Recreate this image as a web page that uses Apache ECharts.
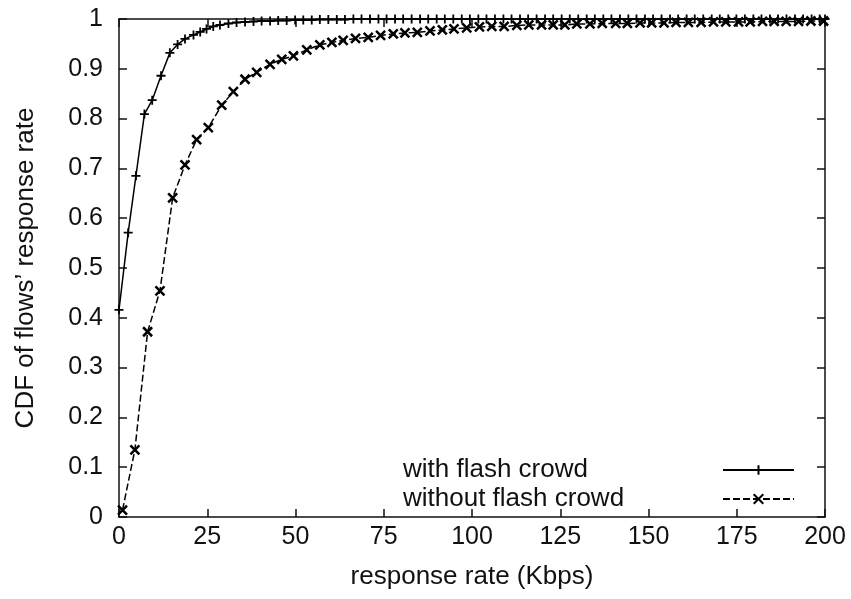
<!DOCTYPE html>
<html>
<head>
<meta charset="utf-8">
<script src="https://cdn.jsdelivr.net/npm/echarts@6/dist/echarts.min.js"></script>
<style>
  html, body { margin: 0; padding: 0; background: #fff; }
  #chart { width: 851px; height: 599px; }
</style>
</head>
<body>
<div id="chart"></div>
<script>
// Response rate (Kbps) sample points and CDF values, with flash crowd
var withRate = [0, 2.6, 4.8, 7.2, 9.4, 11.9, 14.4, 16.6, 18.7, 21.1, 23.0, 24.8, 26.7, 28.6, 31.0, 33.3,
  35.7, 38.1, 40.4, 42.8, 45.1, 47.5, 49.9, 52.2, 54.6, 56.9, 59.3, 61.7, 64.0, 66.4, 68.7, 71.1,
  73.5, 75.8, 78.2, 80.5, 82.9, 85.3, 87.6, 90.0, 92.3, 94.7, 97.1, 99.4, 101.8, 104.1, 106.5, 108.9,
  111.2, 113.6, 115.9, 118.3, 120.7, 123.0, 125.4, 127.7, 130.1, 132.5, 134.8, 137.2, 139.5, 141.9,
  144.3, 146.6, 149.0, 151.3, 153.7, 156.1, 158.4, 160.8, 163.1, 165.5, 167.9, 170.2, 172.6, 174.9,
  177.3, 179.7, 182.0, 184.4, 186.7, 189.1, 191.5, 193.8, 196.2, 198.5, 200.0];
var withCdf = [0.416, 0.571, 0.685, 0.809, 0.837, 0.886, 0.932, 0.949, 0.960, 0.968, 0.974, 0.980, 0.985, 0.988, 0.991, 0.993,
  0.994, 0.995, 0.996, 0.996, 0.997, 0.997, 0.998, 0.998, 0.998, 0.999, 0.999, 0.999, 0.999, 1.0, 1.0, 1.0,
  1.0, 1.0, 1.0, 1.0, 1.0, 1.0, 1.0, 1.0, 1.0, 1.0, 1.0, 1.0, 1.0, 1.0, 1.0, 1.0,
  1.0, 1.0, 1.0, 1.0, 1.0, 1.0, 1.0, 1.0, 1.0, 1.0, 1.0, 1.0, 1.0, 1.0,
  1.0, 1.0, 1.0, 1.0, 1.0, 1.0, 1.0, 1.0, 1.0, 1.0, 1.0, 1.0, 1.0, 1.0,
  1.0, 1.0, 1.0, 1.0, 1.0, 1.0, 1.0, 1.0, 1.0, 1.0, 1.0];

// Without flash crowd
var withoutRate = [1.0, 4.5, 8.1, 11.6, 15.2, 18.7, 22.0, 25.3, 29.1, 32.4, 35.7, 39.0, 42.8, 46.1, 49.4,
  53.2, 56.9, 60.3, 63.5, 67.0, 70.6, 74.1, 77.7, 81.0, 84.5, 88.1, 91.6, 94.9, 98.5, 102.1, 105.6,
  109.1, 112.7, 116.1, 119.7, 123.0, 126.3, 129.7, 133.4, 136.9, 140.7, 144.0, 147.6, 150.9, 154.4,
  157.8, 161.3, 164.9, 168.4, 171.9, 175.5, 178.8, 182.3, 185.6, 189.0, 192.5, 196.0, 199.6];
var withoutCdf = [0.014, 0.135, 0.372, 0.454, 0.641, 0.707, 0.758, 0.782, 0.827, 0.854, 0.879, 0.893, 0.909, 0.919, 0.926,
  0.938, 0.948, 0.953, 0.957, 0.961, 0.963, 0.967, 0.970, 0.972, 0.973, 0.976, 0.978, 0.980, 0.982, 0.984, 0.985,
  0.985, 0.987, 0.988, 0.988, 0.988, 0.988, 0.990, 0.990, 0.991, 0.991, 0.991, 0.992, 0.992, 0.992,
  0.993, 0.993, 0.993, 0.994, 0.994, 0.994, 0.994, 0.995, 0.995, 0.995, 0.995, 0.996, 0.996];

var seriesNames = ['with flash crowd', 'without flash crowd'];
var xTickLabels = ['0', '25', '50', '75', '100', '125', '150', '175', '200'];
var yTickLabels = ['0', '0.1', '0.2', '0.3', '0.4', '0.5', '0.6', '0.7', '0.8', '0.9', '1'];
var xTitle = 'response rate (Kbps)';
var yTitle = 'CDF of flows\u2019 response rate';

function pairs(xs, ys) {
  return xs.map(function (x, i) { return [x, ys[i]]; });
}

var FONT = 'Liberation Sans, Arial, sans-serif';
var INK = '#111';
var plusPath = 'path://M0,5L10,5M5,0L5,10';
var crossPath = 'path://M0,0L10,10M10,0L0,10';

var tickIn = { show: true, inside: true, length: 8, lineStyle: { color: INK, width: 1.5 } };

function xAxisDef(pos, showLabel) {
  return {
    type: 'value', position: pos, min: 0, max: 200, interval: 25,
    axisLine: { show: true, onZero: false, lineStyle: { color: INK, width: 1.5 } },
    axisTick: tickIn, splitLine: { show: false },
    axisLabel: {
      show: showLabel, margin: 8, color: INK, fontFamily: FONT, fontSize: 25,
      formatter: function (v) { return xTickLabels[Math.round(v / 25)]; }
    },
    name: showLabel ? xTitle : '', nameLocation: 'middle', nameGap: 47,
    nameTextStyle: { color: INK, fontFamily: FONT, fontSize: 26 }
  };
}
function yAxisDef(pos, showLabel) {
  return {
    type: 'value', position: pos, min: 0, max: 1, interval: 0.1,
    axisLine: { show: true, onZero: false, lineStyle: { color: INK, width: 1.5 } },
    axisTick: tickIn, splitLine: { show: false },
    axisLabel: {
      show: showLabel, margin: 16, color: INK, fontFamily: FONT, fontSize: 25,
      formatter: function (v) { return yTickLabels[Math.round(v * 10)]; }
    },
    name: showLabel ? yTitle : '', nameLocation: 'middle', nameGap: 80,
    nameTextStyle: { color: INK, fontFamily: FONT, fontSize: 26 }
  };
}

var chart = echarts.init(document.getElementById('chart'), null, { renderer: 'canvas' });
chart.setOption({
  animation: false,
  backgroundColor: '#fff',
  grid: { left: 119, right: 26, top: 19, bottom: 82, containLabel: false },
  xAxis: [xAxisDef('bottom', true), xAxisDef('top', false)],
  yAxis: [yAxisDef('left', true), yAxisDef('right', false)],
  legend: {
    left: 403, top: 457, orient: 'vertical', align: 'right',
    itemWidth: 71, itemHeight: 12, itemGap: 3, padding: 0,
    textStyle: {
      color: INK, fontFamily: FONT, fontSize: 26, lineHeight: 24,
      rich: { t: { width: 315, align: 'left', color: INK, fontFamily: FONT, fontSize: 26 } }
    },
    formatter: function (name) { return '{t|' + name + '}'; },
    data: seriesNames
  },
  series: [
    {
      name: seriesNames[0], type: 'line', xAxisIndex: 0, yAxisIndex: 0,
      data: pairs(withRate, withCdf),
      symbol: plusPath, symbolSize: 9, showAllSymbol: true,
      lineStyle: { color: '#000', width: 1.5, type: 'solid' },
      itemStyle: { color: '#000', borderColor: '#000', borderWidth: 1.8 }
    },
    {
      name: seriesNames[1], type: 'line', xAxisIndex: 0, yAxisIndex: 0,
      data: pairs(withoutRate, withoutCdf),
      symbol: crossPath, symbolSize: 9, showAllSymbol: true,
      lineStyle: { color: '#000', width: 1.5, type: [7, 3] },
      itemStyle: { color: '#000', borderColor: '#000', borderWidth: 2.5 }
    }
  ]
});
</script>
</body>
</html>
